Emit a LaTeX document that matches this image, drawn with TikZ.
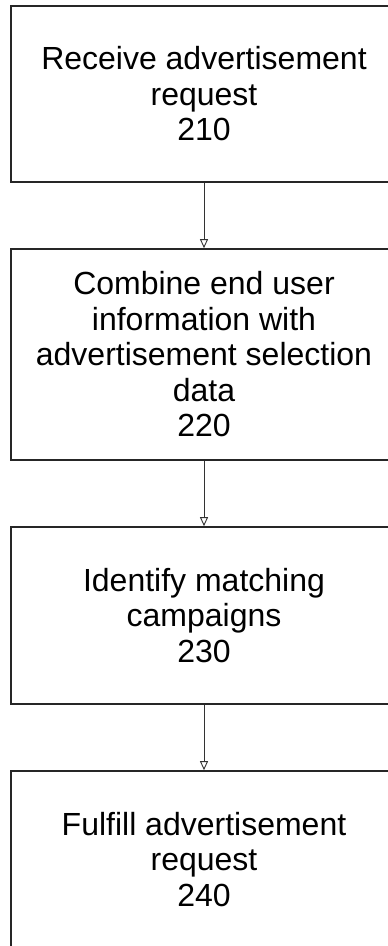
\documentclass[tikz,border=0pt]{standalone}
\usepackage{fontspec}
\setmainfont{Liberation Sans}
\usetikzlibrary{arrows.meta,positioning}

\tikzset{
  stepbox/.style={draw=black!85, line width=1.6pt, rectangle,
    minimum width=386pt, inner sep=0pt, align=center,
    font=\fontsize{32pt}{35.5pt}\selectfont},
  flow/.style={draw=black!80, line width=1pt,
    -{Triangle[open, length=9pt, width=8pt, line width=0.9pt]}}
}

\begin{document}
\begin{tikzpicture}[x=1pt, y=-1pt]
  \useasboundingbox (0,0) rectangle (388,946);

  \node[stepbox, minimum height=176pt] (s210) at (204,94)
    {Receive advertisement\\request\\210};
  \node[stepbox, minimum height=211pt] (s220) at (204,354.5)
    {Combine end user\\information with\\advertisement selection\\data\\220};
  \node[stepbox, minimum height=177pt] (s230) at (204,615.5)
    {Identify matching\\campaigns\\230};
  \node[stepbox, minimum height=177pt] (s240) at (204,859.5)
    {Fulfill advertisement\\request\\240};

  \draw[flow] (s210.south) -- (s220.north);
  \draw[flow] (s220.south) -- (s230.north);
  \draw[flow] (s230.south) -- (s240.north);
\end{tikzpicture}
\end{document}
